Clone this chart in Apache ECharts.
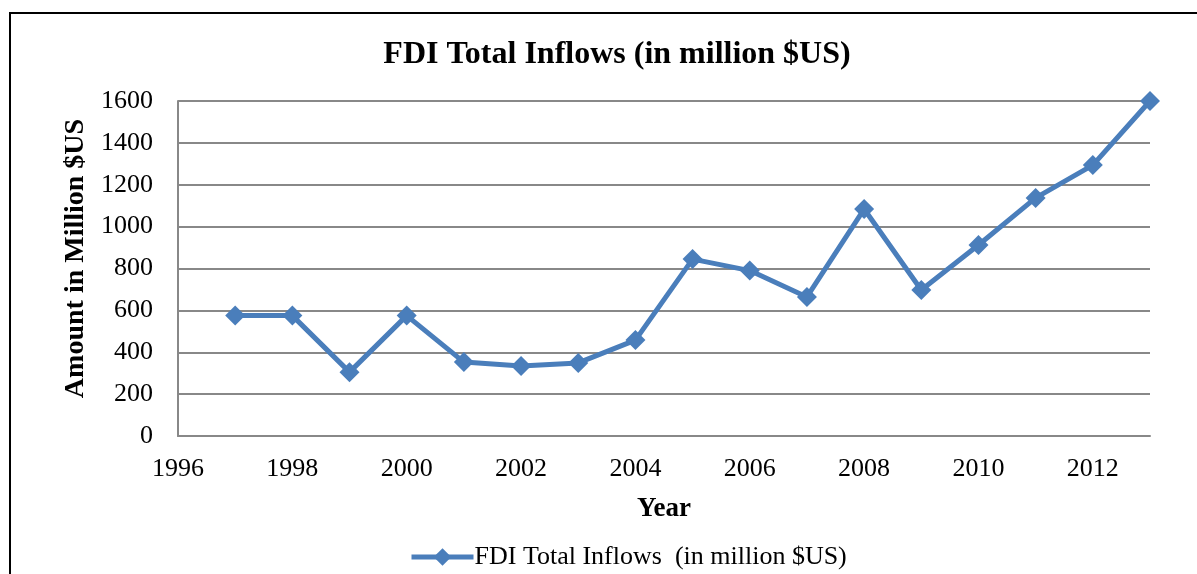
<!DOCTYPE html>
<html><head><meta charset="utf-8">
<script src="https://cdn.jsdelivr.net/npm/echarts@6/dist/echarts.min.js"></script>
<style>
html,body{margin:0;padding:0;background:#fff;overflow:hidden;}
#frame{position:absolute;left:9px;top:12px;width:1300px;height:700px;border-left:2px solid #000;border-top:2px solid #000;}
#c{position:absolute;left:0;top:0;width:1197px;height:574px;}
</style></head>
<body>
<div id="frame"></div>
<div id="c"></div>
<script>
const years = [1997,1998,1999,2000,2001,2002,2003,2004,2005,2006,2007,2008,2009,2010,2011,2012,2013];
const inflows = [575,575,305,575,353,334,349,458,845,790,664,1084,697,912,1137,1294,1600];
const seriesName = 'FDI Total Inflows  (in million $US)';
const titleText = 'FDI Total Inflows (in million $US)';

const chart = echarts.init(document.getElementById('c'));
const serif = '"Liberation Serif","Times New Roman",serif';
chart.setOption({
  animation:false,
  title:{text:titleText,left:612,textAlign:'center',top:34,textStyle:{fontFamily:serif,fontSize:32,fontWeight:'bold',color:'#000'}},
  legend:{top:539,left:404,itemWidth:62,itemHeight:22,itemGap:0,
    lineStyle:{width:5},
    textStyle:{fontFamily:serif,fontSize:26,color:'#000',padding:[0,0,0,-4]},data:[{name:seriesName}]},
  grid:{left:178,right:47,top:101,bottom:138},
  xAxis:{type:'value',min:1996,max:2013,interval:2,
    name:'Year',nameLocation:'middle',nameGap:60,nameTextStyle:{fontFamily:serif,fontSize:27,fontWeight:'bold',color:'#000'},
    axisLine:{lineStyle:{color:'#888',width:2}},axisTick:{show:false},splitLine:{show:false},
    axisLabel:{fontFamily:serif,fontSize:26,color:'#000',margin:20,showMaxLabel:false,formatter:v=>String(v)}},
  yAxis:{type:'value',min:0,max:1600,interval:200,
    name:'Amount in Million $US',nameLocation:'middle',nameGap:82,nameTextStyle:{fontFamily:serif,fontSize:28,fontWeight:'bold',color:'#000',padding:[0,0,0,20]},
    axisLine:{show:true,lineStyle:{color:'#888',width:2}},axisTick:{show:false},
    splitLine:{lineStyle:{color:'#888',width:2}},
    axisLabel:{fontFamily:serif,fontSize:26,color:'#000',margin:25,formatter:v=>String(v)}},
  series:[{name:seriesName,type:'line',data:years.map((y,i)=>[y,inflows[i]]),
    symbol:'diamond',symbolSize:20,lineStyle:{color:'#4A7EBB',width:5},itemStyle:{color:'#4A7EBB'}}]
});
</script>
</body></html>
